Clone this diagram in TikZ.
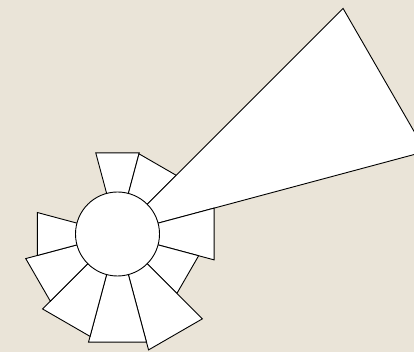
\documentclass[tikz,border=0pt]{standalone}
\definecolor{bg}{RGB}{234,228,216}
\begin{document}
\begin{tikzpicture}[x=1pt,y=1pt,
  wedge/.style={fill=white,draw=black,line width=0.9pt,line join=miter}]
\useasboundingbox (0,0) rectangle (414,352);
\fill[bg] (0,0) rectangle (414,352);
\clip (0,0) rectangle (414,352);
\begin{scope}[shift={(117.5,118)}]
\foreach \a/\r in {75/84,45/83,15/319,-15/100,-45/84,-75/120,-105/112,-135/106,-165/95,165/83}{
  \pgfmathsetmacro{\b}{\a+30}
  \draw[wedge] (\a:40pt) -- (\a:\r pt) -- (\b:\r pt) -- (\b:40pt) -- cycle;
}
\draw[wedge] (0,0) circle (42pt);
\end{scope}
\end{tikzpicture}
\end{document}
